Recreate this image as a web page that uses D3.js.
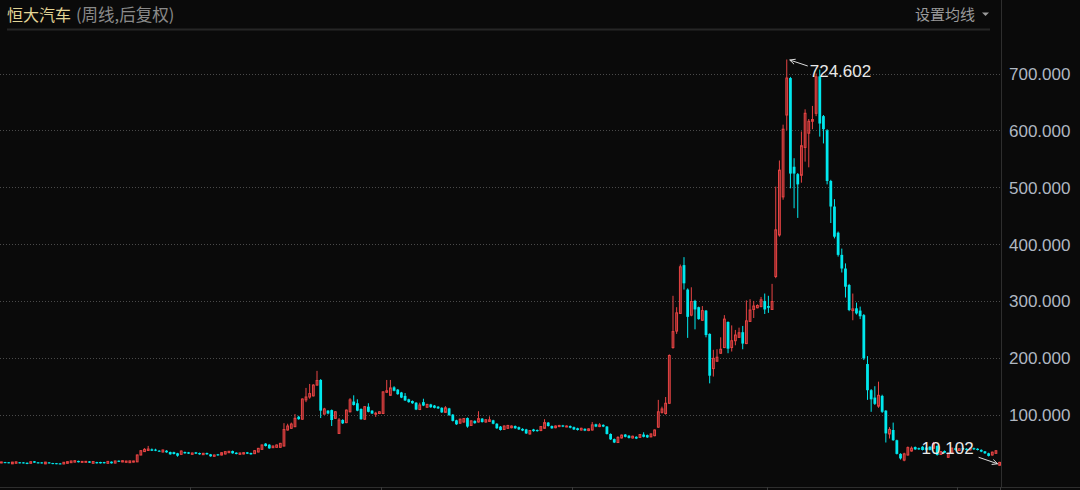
<!DOCTYPE html>
<html><head><meta charset="utf-8">
<script src="https://cdn.jsdelivr.net/npm/d3@7"></script>
<style>
html,body{margin:0;padding:0;background:#0a0a0a;overflow:hidden;}
svg{display:block;}
</style></head><body>
<svg id="chart" width="1080" height="490"></svg>
<script>
// ---------- data ----------
const title = "恒大汽车";
const subtitle = "(周线,后复权)";
const maButton = "设置均线";
const yTicks = [100, 200, 300, 400, 500, 600, 700];
const yTickLabels = ["100.000", "200.000", "300.000", "400.000", "500.000", "600.000", "700.000"];
const yearStartWeeks = [52, 104, 156, 209, 261];

const open = [
  15.0,16.5,16.2,13.5,14.5,16.2,16.0,15.4,14.4,18.0,
  16.1,16.0,13.4,16.0,14.8,14.6,14.2,13.3,14.4,15.5,
  16.5,18.6,16.2,16.3,17.8,14.4,16.6,16.7,16.6,14.4,
  17.3,14.8,19.0,16.8,16.2,15.5,16.5,17.0,29.0,35.0,
  37.0,39.0,38.5,36.6,34.3,36.6,34.3,34.0,32.0,30.2,
  34.3,33.7,30.2,33.7,32.5,29.6,32.5,30.2,26.7,30.2,
  29.0,30.8,33.1,36.0,33.1,30.2,30.8,33.7,32.5,31.4,
  34.3,39.0,49.0,47.2,41.9,42.5,42.5,44.8,73.0,76.0,
  78.8,96.4,92.0,126.0,131.0,133.0,152.0,161.0,101.0,107.0,
  108.0,93.5,67.0,90.6,86.0,105.0,123.0,120.0,110.0,92.0,
  114.0,107.0,101.0,102.0,102.0,139.4,134.0,148.0,144.0,139.0,
  133.0,127.0,124.0,121.0,109.0,122.0,113.0,118.0,116.0,114.0,
  112.0,104.0,111.0,100.0,90.0,85.0,87.0,94.0,81.0,89.0,
  87.0,93.0,87.0,88.0,90.0,84.0,79.0,74.0,76.0,77.0,
  80.0,78.0,75.0,74.0,66.0,74.0,73.0,72.0,76.0,86.0,
  80.0,77.0,79.0,81.0,79.0,80.0,78.0,76.0,73.0,75.0,
  72.0,73.0,83.0,79.0,82.0,79.0,66.0,57.0,51.0,59.0,
  65.0,63.0,59.0,61.0,60.0,65.0,64.0,61.0,63.0,78.0,
  104.0,102.0,120.0,218.0,247.0,278.0,363.0,320.0,275.0,300.0,
  289.0,266.0,283.0,242.0,181.0,194.0,208.0,218.0,263.0,218.0,
  230.0,236.0,245.0,225.0,264.0,285.0,288.0,290.0,300.0,291.0,
  285.0,343.0,416.0,483.0,627.0,692.0,536.0,523.0,521.0,570.0,
  595.0,616.0,630.0,695.0,625.0,600.0,511.0,466.0,420.0,381.0,
  357.0,328.0,283.0,287.0,283.0,275.0,189.0,143.0,130.0,115.0,
  133.0,107.0,66.0,73.0,55.0,31.0,20.0,29.0,36.0,43.0,
  41.0,43.6,42.0,43.6,40.7,45.0,30.0,36.0,25.0,32.0,
  41.0,37.0,41.0,40.0,38.0,41.0,40.0,38.0,35.5,32.0,
  29.0,32.0,11.0
];
const high = [
  17.2,16.9,16.6,16.9,17.4,16.6,16.4,15.8,17.6,18.4,
  16.5,16.4,16.9,16.4,15.2,15.0,14.6,16.6,17.7,18.9,
  19.4,19.0,18.2,18.3,18.2,18.0,17.0,17.1,17.0,18.2,
  17.7,18.9,19.4,19.4,18.8,19.0,18.9,30.0,37.5,41.0,
  45.0,40.5,40.0,37.5,38.5,37.5,35.0,34.8,32.8,37.0,
  35.0,34.4,33.2,34.4,33.2,32.7,33.2,30.9,29.7,30.9,
  33.8,35.6,36.2,36.8,33.8,33.2,33.8,34.4,33.2,37.4,
  41.5,47.5,50.0,48.0,45.6,47.4,50.3,85.0,84.0,86.0,
  101.0,98.0,128.5,147.0,154.0,153.5,177.0,162.5,112.0,108.0,
  109.0,106.0,94.0,92.0,109.0,129.0,134.0,127.0,111.0,115.0,
  120.0,108.0,105.0,106.0,141.0,161.0,161.0,150.0,145.0,140.0,
  138.0,128.0,125.0,122.0,121.0,128.0,119.0,119.0,117.0,115.0,
  113.0,115.0,112.0,101.0,91.0,93.0,94.0,95.0,90.0,90.0,
  106.0,94.0,92.0,97.0,91.0,85.0,80.0,81.0,82.0,81.0,
  81.0,79.0,76.0,75.0,73.0,75.0,74.0,80.0,92.0,87.0,
  81.0,81.0,82.0,82.0,81.0,81.0,79.0,77.0,77.0,76.0,
  76.0,87.0,84.0,85.0,83.0,80.0,67.0,58.0,62.0,65.0,
  66.0,64.0,63.0,62.0,66.0,69.0,65.0,67.0,74.0,126.0,
  114.0,131.0,206.0,309.0,289.0,364.0,377.0,322.0,324.0,302.0,
  290.0,291.0,284.0,243.0,214.0,215.0,236.0,275.0,264.0,257.0,
  249.0,253.0,256.0,301.0,303.0,300.0,294.0,307.0,313.0,309.0,
  330.0,501.0,547.0,610.0,724.602,694.0,551.0,525.0,598.0,637.0,
  620.0,643.0,700.0,707.0,627.0,602.0,513.0,479.0,422.0,392.0,
  366.0,330.0,313.0,297.0,290.0,277.0,203.0,145.0,150.0,158.0,
  135.0,108.0,78.0,86.0,56.0,32.0,33.0,44.0,44.0,44.0,
  42.0,44.5,43.0,44.5,52.0,46.0,36.0,37.0,33.0,42.0,
  42.0,41.0,42.0,41.0,42.0,42.0,41.0,39.0,36.0,33.0,
  35.0,37.5,17.0
];
const low = [
  14.6,14.6,14.4,13.1,14.1,14.2,14.1,12.9,14.0,15.2,
  14.1,14.0,13.0,14.1,12.9,12.8,12.7,12.9,14.0,15.1,
  16.1,15.9,15.8,15.9,15.1,14.0,14.0,14.0,14.1,14.0,
  14.0,14.4,16.6,16.4,15.8,15.1,16.1,16.5,28.5,34.5,
  36.0,36.0,35.8,34.8,33.5,33.0,29.5,30.0,26.0,29.5,
  31.3,30.7,29.5,30.7,29.5,28.9,29.5,26.0,26.0,27.7,
  28.3,30.1,32.4,31.3,30.1,29.5,30.1,30.7,29.5,30.7,
  33.6,38.3,44.0,40.0,41.2,41.8,41.8,44.0,72.0,75.0,
  78.0,91.0,91.0,122.0,128.0,132.0,151.0,94.0,100.0,100.5,
  80.0,92.5,66.0,83.5,85.0,104.0,116.0,106.0,91.0,91.0,
  104.0,101.0,96.0,101.0,101.0,138.0,133.0,141.0,135.0,129.0,
  124.0,121.0,119.0,108.0,108.0,115.0,112.0,112.0,111.0,110.0,
  103.0,103.0,98.0,88.0,82.0,84.0,86.0,77.0,80.0,84.0,
  86.0,86.0,86.0,87.0,83.0,75.0,72.0,73.0,75.0,76.0,
  75.0,73.0,71.0,66.0,65.0,70.0,70.0,71.0,75.0,79.0,
  75.0,76.0,78.0,78.0,78.0,76.0,73.0,72.0,72.0,71.0,
  71.0,72.0,78.0,78.0,78.0,65.0,55.5,50.0,50.0,58.0,
  60.0,58.0,58.0,57.0,59.0,60.0,59.0,60.0,62.0,77.0,
  102.0,100.0,119.0,216.0,242.0,277.0,320.0,235.0,273.0,250.0,
  267.0,265.0,236.0,155.0,167.0,193.0,207.0,217.0,208.0,211.0,
  222.0,235.0,215.0,224.0,263.0,270.0,287.0,289.0,277.0,279.0,
  284.0,340.0,413.0,478.0,600.0,498.0,463.0,446.0,508.0,545.0,
  535.0,602.0,625.0,589.0,577.0,505.0,437.0,410.0,378.0,350.0,
  306.0,282.0,266.0,276.0,268.0,196.0,126.0,105.0,117.0,112.0,
  103.0,51.0,58.0,54.0,30.0,21.0,18.0,28.0,35.0,38.0,
  38.0,37.0,37.0,37.0,40.0,28.0,29.0,32.0,24.0,31.0,
  37.0,36.0,38.0,37.0,37.0,38.0,37.0,34.0,31.0,26.5,
  28.0,31.0,10.102
];
const close = [
  16.8,15.0,14.8,16.5,17.0,14.6,14.5,13.3,17.2,15.6,
  14.5,14.4,16.5,14.5,13.3,13.2,13.1,16.2,17.3,18.5,
  19.0,16.3,17.8,17.9,15.5,17.6,14.4,14.4,14.5,17.8,
  14.4,18.5,17.0,19.0,18.4,18.6,18.5,29.0,36.6,39.0,
  39.5,36.6,36.6,35.5,37.8,33.7,30.2,30.8,27.8,36.0,
  32.0,31.4,32.5,31.4,30.2,32.0,30.2,26.7,29.0,28.4,
  33.1,34.9,35.5,32.0,30.8,32.5,33.1,31.4,30.2,36.6,
  40.7,46.6,44.8,40.7,44.8,46.6,49.5,73.8,80.0,83.5,
  93.5,92.0,127.5,131.0,137.0,152.0,160.0,107.0,110.0,102.0,
  90.6,105.0,90.6,84.7,108.0,126.0,117.0,107.0,92.0,114.0,
  105.0,102.0,102.5,105.0,140.0,142.0,147.0,142.0,136.0,130.0,
  125.0,122.0,120.0,109.0,117.0,116.0,118.0,113.0,112.0,111.0,
  104.0,112.0,99.0,89.0,83.0,92.0,93.0,79.0,89.0,85.0,
  93.0,87.0,91.0,91.0,84.0,76.0,73.0,80.0,81.0,80.0,
  76.0,74.0,72.0,67.0,72.0,71.0,71.0,79.0,86.0,80.0,
  76.0,80.0,81.0,79.0,80.0,77.0,74.0,73.0,76.0,72.0,
  75.0,82.0,79.0,82.0,79.0,66.0,56.5,51.0,60.0,64.0,
  61.0,59.0,62.0,58.0,65.0,61.0,60.0,66.0,73.0,105.0,
  110.0,120.0,204.0,246.0,279.0,360.0,331.0,272.0,299.0,285.0,
  268.0,283.0,240.0,168.5,199.0,201.0,215.0,268.0,216.0,230.0,
  240.0,244.0,225.0,265.0,284.0,291.0,292.0,302.0,285.0,288.0,
  299.0,425.0,530.0,602.0,692.0,524.0,524.0,505.0,573.0,630.0,
  616.0,619.0,694.0,612.0,602.0,511.0,466.0,413.0,381.0,357.0,
  325.0,284.0,286.0,278.0,273.0,199.0,143.0,127.0,119.0,134.0,
  105.0,67.0,74.0,55.0,31.0,23.0,31.0,42.0,41.0,39.0,
  39.0,37.8,38.0,38.0,49.5,29.0,35.0,33.0,32.0,41.0,
  38.0,40.0,39.0,38.0,41.0,39.0,37.8,35.0,32.0,27.5,
  34.0,36.5,16.0
];

// ---------- drawing ----------
const W = 1080, H = 490;
const plotRight = 1001, axisY = 487;
const n = open.length;
const weeks = d3.range(n).map(i => ({i, o: open[i], h: high[i], l: low[i], c: close[i]}));

const svg = d3.select("#chart");
svg.append("rect").attr("width", W).attr("height", H).attr("fill", "#0a0a0a");

const x = d3.scaleBand().domain(d3.range(n)).range([0, plotRight]).paddingInner(0.24);
const cx = i => x(i) + x.bandwidth() / 2;
const y = d3.scaleLinear().domain([0, 700]).range([471.5, 73.5]);

// header
svg.append("line").attr("x1", 7).attr("x2", 990).attr("y1", 29.5).attr("y2", 29.5)
  .attr("stroke", "#262626").attr("stroke-width", 2);
const cjk = "'Noto Sans CJK SC','Noto Sans',sans-serif";
const t = svg.append("text").attr("x", 7).attr("y", 21).attr("font-family", cjk).attr("font-size", 16);
t.append("tspan").attr("fill", "#e3d596").text(title);
t.append("tspan").attr("fill", "#8a8a8a").attr("dx", 5).attr("font-size", 16.5).text(subtitle);
svg.append("text").attr("x", 975).attr("y", 20).attr("text-anchor", "end")
  .attr("font-family", cjk).attr("font-size", 15).attr("fill", "#9a9a9a").text(maButton);
svg.append("path").attr("d", "M982,12.5 L989,12.5 L985.5,16 Z").attr("fill", "#9a9a9a");

// gridlines
svg.append("g").selectAll("line").data(yTicks).join("line")
  .attr("x1", 0).attr("x2", plotRight).attr("y1", d => Math.round(y(d)) + 0.5).attr("y2", d => Math.round(y(d)) + 0.5)
  .attr("stroke", "#4a4a4a").attr("stroke-width", 1).attr("stroke-dasharray", "1,2");

// frame
svg.append("line").attr("x1", plotRight + 0.5).attr("x2", plotRight + 0.5).attr("y1", 0).attr("y2", axisY)
  .attr("stroke", "#2e2e2e");
svg.append("line").attr("x1", 0).attr("x2", W).attr("y1", axisY + 0.5).attr("y2", axisY + 0.5)
  .attr("stroke", "#2e2e2e");
const tickXs = yearStartWeeks.map(w => x(w) - x.step() * 0.12).concat([cx(n - 1)]);
svg.append("g").selectAll("line").data(tickXs).join("line")
  .attr("x1", d => Math.round(d) + 0.5).attr("x2", d => Math.round(d) + 0.5).attr("y1", axisY).attr("y2", H)
  .attr("stroke", "#3a3a3a");

// y axis labels
const yAxis = d3.axisRight(y).tickValues(yTicks).tickSize(0).tickPadding(0)
  .tickFormat((d, k) => yTickLabels[k]);
const ga = svg.append("g").attr("transform", `translate(1009,0)`).call(yAxis);
ga.select(".domain").remove();
ga.selectAll("text").attr("font-family", "'Liberation Sans',Arial,sans-serif").attr("font-size", 17)
  .attr("fill", "#b0b8c2").attr("dy", "0.35em");

// candles
const UP_STROKE = "#e84444", UP_FILL = "#7a2424", DOWN = "#00e8ee";
const g = svg.append("g");
g.selectAll("line.wick").data(weeks).join("line").attr("class", "wick")
  .attr("x1", d => cx(d.i)).attr("x2", d => cx(d.i))
  .attr("y1", d => y(d.h)).attr("y2", d => y(d.l))
  .attr("stroke", d => d.c >= d.o ? UP_STROKE : DOWN).attr("stroke-width", 1);
const bw = x.bandwidth();
g.selectAll("rect.body").data(weeks).join("rect").attr("class", "body")
  .attr("x", d => d.c >= d.o ? x(d.i) + 0.5 : x(d.i))
  .attr("width", d => d.c >= d.o ? bw - 1 : bw)
  .attr("y", d => y(Math.max(d.o, d.c)))
  .attr("height", d => Math.max(1, Math.abs(y(d.o) - y(d.c))))
  .attr("fill", d => d.c >= d.o ? UP_FILL : DOWN)
  .attr("stroke", d => d.c >= d.o ? UP_STROKE : "none")
  .attr("stroke-width", 1);

// max / min annotations
const iMax = d3.maxIndex(high), iMin = d3.minIndex(low);
const ann = svg.append("g").attr("font-family", "'Liberation Sans',Arial,sans-serif").attr("font-size", 17).attr("fill", "#e8e8e8");
function arrow(x1, y1, x2, y2) {
  const a = Math.atan2(y2 - y1, x2 - x1), L = 6, s = 0.45;
  ann.append("line").attr("x1", x1).attr("y1", y1).attr("x2", x2).attr("y2", y2).attr("stroke", "#dcdcdc");
  ann.append("path").attr("fill", "none").attr("stroke", "#dcdcdc")
    .attr("d", `M${x2 - L * Math.cos(a - s)},${y2 - L * Math.sin(a - s)} L${x2},${y2} L${x2 - L * Math.cos(a + s)},${y2 - L * Math.sin(a + s)}`);
}
const px = cx(iMax), py = y(high[iMax]);
arrow(px + 21, py + 6.5, px + 3, py + 0.5);
ann.append("text").attr("x", px + 23).attr("y", py + 17).text(d3.format(".3f")(high[iMax]));
const lx = cx(iMin), ly = y(low[iMin]);
arrow(lx - 21, ly - 8.5, lx - 2, ly - 2);
ann.append("text").attr("x", lx - 26).attr("y", ly - 11.5).attr("text-anchor", "end").text(d3.format(".3f")(low[iMin]));
</script>
</body></html>
